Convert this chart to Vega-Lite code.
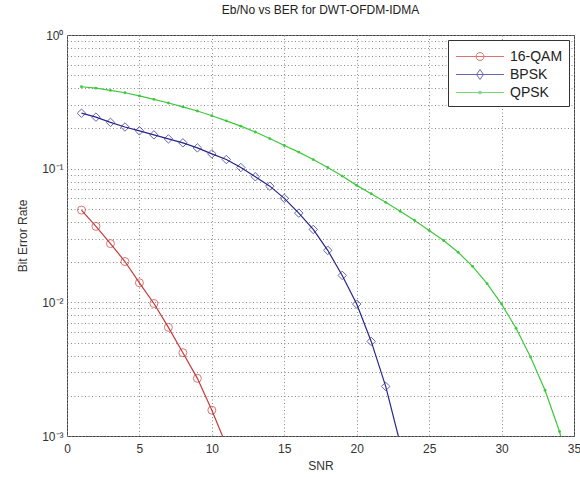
{
  "$schema": "https://vega.github.io/schema/vega-lite/v6.json",
  "width": 507,
  "height": 401,
  "autosize": {"type": "none"},
  "padding": {"left": 67, "top": 35, "right": 6, "bottom": 41},
  "background": "white",
  "title": {"text": "Eb/No vs BER for DWT-OFDM-IDMA", "fontSize": 12, "fontWeight": "normal", "font": "Liberation Sans", "color": "#222", "offset": 12, "anchor": "middle"},
  "config": {
    "view": {"stroke": "#444", "strokeWidth": 1},
    "axis": {
      "labelFont": "Liberation Sans", "labelFontSize": 12, "labelColor": "#333",
      "titleFont": "Liberation Sans", "titleFontSize": 12, "titleFontWeight": "normal", "titleColor": "#333",
      "grid": true, "gridColor": "#8a8a8a", "gridDash": [1, 2.5], "gridWidth": 1,
      "domain": false, "ticks": false
    }
  },
  "data": {"values": [
    {"series": "16-QAM", "snr": 1, "ber": 0.049},
    {"series": "16-QAM", "snr": 2, "ber": 0.037},
    {"series": "16-QAM", "snr": 3, "ber": 0.0275},
    {"series": "16-QAM", "snr": 4, "ber": 0.0202},
    {"series": "16-QAM", "snr": 5, "ber": 0.014},
    {"series": "16-QAM", "snr": 6, "ber": 0.0098},
    {"series": "16-QAM", "snr": 7, "ber": 0.0065},
    {"series": "16-QAM", "snr": 8, "ber": 0.0042},
    {"series": "16-QAM", "snr": 9, "ber": 0.0027},
    {"series": "16-QAM", "snr": 10, "ber": 0.00156},
    {"series": "16-QAM", "snr": 11, "ber": 0.00085},
    {"series": "BPSK", "snr": 1, "ber": 0.26},
    {"series": "BPSK", "snr": 2, "ber": 0.243},
    {"series": "BPSK", "snr": 3, "ber": 0.222},
    {"series": "BPSK", "snr": 4, "ber": 0.205},
    {"series": "BPSK", "snr": 5, "ber": 0.192},
    {"series": "BPSK", "snr": 6, "ber": 0.179},
    {"series": "BPSK", "snr": 7, "ber": 0.167},
    {"series": "BPSK", "snr": 8, "ber": 0.156},
    {"series": "BPSK", "snr": 9, "ber": 0.143},
    {"series": "BPSK", "snr": 10, "ber": 0.129},
    {"series": "BPSK", "snr": 11, "ber": 0.117},
    {"series": "BPSK", "snr": 12, "ber": 0.102},
    {"series": "BPSK", "snr": 13, "ber": 0.087},
    {"series": "BPSK", "snr": 14, "ber": 0.074},
    {"series": "BPSK", "snr": 15, "ber": 0.06},
    {"series": "BPSK", "snr": 16, "ber": 0.0465},
    {"series": "BPSK", "snr": 17, "ber": 0.0351},
    {"series": "BPSK", "snr": 18, "ber": 0.0245},
    {"series": "BPSK", "snr": 19, "ber": 0.0159},
    {"series": "BPSK", "snr": 20, "ber": 0.0097},
    {"series": "BPSK", "snr": 21, "ber": 0.0051},
    {"series": "BPSK", "snr": 22, "ber": 0.00235},
    {"series": "BPSK", "snr": 23, "ber": 0.00088},
    {"series": "QPSK", "snr": 1, "ber": 0.41},
    {"series": "QPSK", "snr": 2, "ber": 0.4},
    {"series": "QPSK", "snr": 3, "ber": 0.385},
    {"series": "QPSK", "snr": 4, "ber": 0.37},
    {"series": "QPSK", "snr": 5, "ber": 0.35},
    {"series": "QPSK", "snr": 6, "ber": 0.33},
    {"series": "QPSK", "snr": 7, "ber": 0.31},
    {"series": "QPSK", "snr": 8, "ber": 0.29},
    {"series": "QPSK", "snr": 9, "ber": 0.27},
    {"series": "QPSK", "snr": 10, "ber": 0.249},
    {"series": "QPSK", "snr": 11, "ber": 0.228},
    {"series": "QPSK", "snr": 12, "ber": 0.208},
    {"series": "QPSK", "snr": 13, "ber": 0.188},
    {"series": "QPSK", "snr": 14, "ber": 0.168},
    {"series": "QPSK", "snr": 15, "ber": 0.149},
    {"series": "QPSK", "snr": 16, "ber": 0.133},
    {"series": "QPSK", "snr": 17, "ber": 0.117},
    {"series": "QPSK", "snr": 18, "ber": 0.102},
    {"series": "QPSK", "snr": 19, "ber": 0.088},
    {"series": "QPSK", "snr": 20, "ber": 0.075},
    {"series": "QPSK", "snr": 21, "ber": 0.065},
    {"series": "QPSK", "snr": 22, "ber": 0.056},
    {"series": "QPSK", "snr": 23, "ber": 0.048},
    {"series": "QPSK", "snr": 24, "ber": 0.041},
    {"series": "QPSK", "snr": 25, "ber": 0.0345},
    {"series": "QPSK", "snr": 26, "ber": 0.029},
    {"series": "QPSK", "snr": 27, "ber": 0.0237},
    {"series": "QPSK", "snr": 28, "ber": 0.0186},
    {"series": "QPSK", "snr": 29, "ber": 0.0138},
    {"series": "QPSK", "snr": 30, "ber": 0.0097},
    {"series": "QPSK", "snr": 31, "ber": 0.0064},
    {"series": "QPSK", "snr": 32, "ber": 0.0039},
    {"series": "QPSK", "snr": 33, "ber": 0.0022},
    {"series": "QPSK", "snr": 34, "ber": 0.00108},
    {"series": "QPSK", "snr": 35, "ber": 0.0004}
  ]},
  "encoding": {
    "x": {"field": "snr", "type": "quantitative", "scale": {"domain": [0, 35], "nice": false},
      "axis": {"values": [0, 5, 10, 15, 20, 25, 30, 35], "title": "SNR", "labelPadding": 7, "titlePadding": 6, "labelFlush": false}},
    "y": {"field": "ber", "type": "quantitative", "scale": {"type": "log", "domain": [0.001, 1], "nice": false},
      "axis": {"values": [0.001, 0.002, 0.003, 0.004, 0.005, 0.006, 0.007, 0.008, 0.009, 0.01, 0.02, 0.03, 0.04, 0.05, 0.06, 0.07, 0.08, 0.09, 0.1, 0.2, 0.3, 0.4, 0.5, 0.6, 0.7, 0.8, 0.9, 1],
        "labelExpr": "datum.value == 1 ? '10⁰' : datum.value == 0.1 ? '10⁻¹' : datum.value == 0.01 ? '10⁻²' : datum.value == 0.001 ? '10⁻³' : ''",
        "labelOverlap": false, "labelPadding": 4, "title": "Bit Error Rate", "titlePadding": 12}}
  },
  "layer": [
    {
      "mark": {"type": "line", "clip": true, "strokeWidth": 1.2},
      "encoding": {
        "color": {"field": "series", "type": "nominal", "scale": {"domain": ["16-QAM", "BPSK", "QPSK"], "range": ["#c83a3a", "#26268c", "#3dc83d"]}, "legend": null}
      }
    },
    {
      "transform": [{"filter": "datum.series == '16-QAM'"}],
      "mark": {"type": "point", "clip": true, "shape": "circle", "filled": false, "size": 64, "strokeWidth": 1},
      "encoding": {"color": {"field": "series", "type": "nominal", "legend": null}}
    },
    {
      "transform": [{"filter": "datum.series == 'BPSK'"}],
      "mark": {"type": "point", "clip": true, "shape": "diamond", "filled": false, "size": 72, "strokeWidth": 1},
      "encoding": {"color": {"field": "series", "type": "nominal", "legend": null}}
    },
    {
      "transform": [{"filter": "datum.series == 'QPSK'"}],
      "mark": {"type": "point", "clip": true, "shape": "circle", "filled": true, "size": 8, "opacity": 1},
      "encoding": {"color": {"field": "series", "type": "nominal", "legend": null}}
    },
    {
      "mark": {"type": "point", "filled": false, "strokeWidth": 1, "size": 0, "clip": true},
      "encoding": {
        "shape": {"field": "series", "type": "nominal",
          "scale": {"domain": ["16-QAM", "BPSK", "QPSK"], "range": [
            "M-2.4,0L2.4,0M0.4,0L0.346,0.2L0.2,0.346L0,0.4L-0.2,0.346L-0.346,0.2L-0.4,0L-0.346,-0.2L-0.2,-0.346L0,-0.4L0.2,-0.346L0.346,-0.2Z",
            "M-2.4,0L2.4,0M0,-0.5L0.35,0L0,0.5L-0.35,0Z",
            "M-2.4,0L2.4,0M-0.2,0L0.2,0M0,-0.2L0,0.2M-0.15,-0.15L0.15,0.15M-0.15,0.15L0.15,-0.15"]},
          "legend": {
            "orient": "top-right", "offset": 5, "title": null,
            "strokeColor": "#333", "fillColor": "white", "padding": 6,
            "symbolSize": 400, "symbolStrokeWidth": 1, "symbolOffset": 15.5, "labelOffset": 19.5,
            "labelFontSize": 14, "labelFont": "Liberation Sans", "labelColor": "#222", "rowPadding": 0
          }},
        "stroke": {"field": "series", "type": "nominal",
          "scale": {"domain": ["16-QAM", "BPSK", "QPSK"], "range": ["#c83a3a", "#26268c", "#3dc83d"]},
          "legend": {
            "orient": "top-right", "offset": 5, "title": null,
            "strokeColor": "#333", "fillColor": "white", "padding": 6,
            "symbolSize": 400, "symbolStrokeWidth": 1, "symbolOffset": 15.5, "labelOffset": 19.5,
            "labelFontSize": 14, "labelFont": "Liberation Sans", "labelColor": "#222", "rowPadding": 0
          }}
      }
    }
  ],
  "resolve": {"legend": {"shape": "independent", "stroke": "independent"}}
}
